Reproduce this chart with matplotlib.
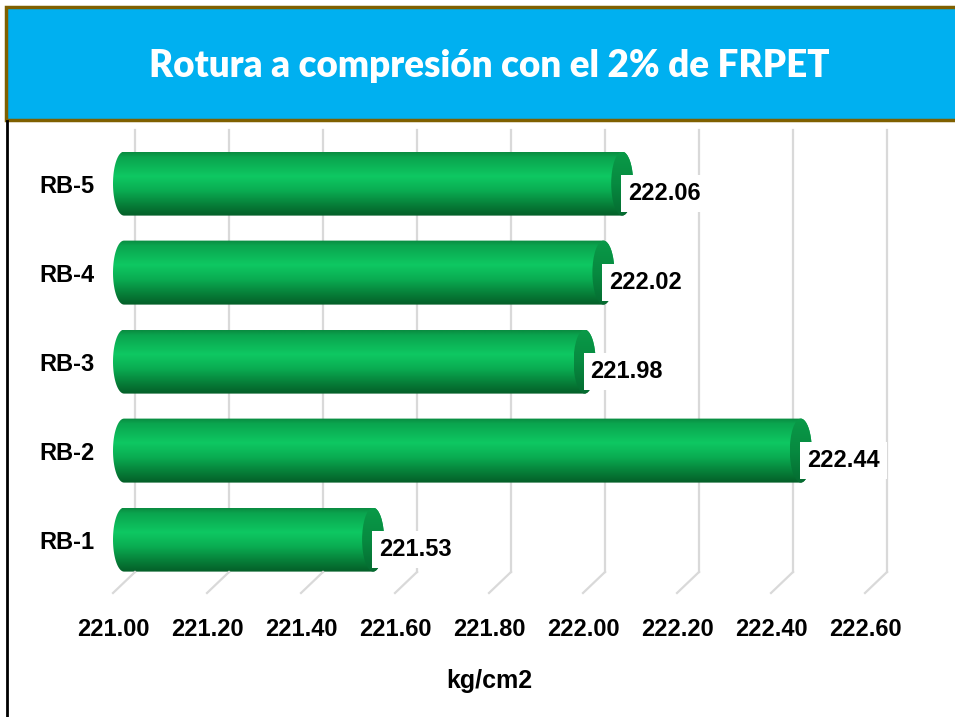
import numpy as np
import matplotlib
matplotlib.use("Agg")
import matplotlib.pyplot as plt
import matplotlib.transforms as mtransforms
from matplotlib.path import Path
from matplotlib.patches import PathPatch, Ellipse, Rectangle
from matplotlib.colors import LinearSegmentedColormap
from matplotlib.lines import Line2D

# data
categories = ["RB-1", "RB-2", "RB-3", "RB-4", "RB-5"]
values = [221.53, 222.44, 221.98, 222.02, 222.06]
x_ticks = [221.00, 221.20, 221.40, 221.60, 221.80, 222.00, 222.20, 222.40, 222.60]
title = "Rotura a compresión con el 2% de FRPET"
x_label = "kg/cm2"

plt.rcParams['font.family'] = ['Liberation Sans', 'DejaVu Sans']

W, H = 955, 717
fig = plt.figure(figsize=(W / 100, H / 100), dpi=100)

# axes placed in pixel terms (front plane of the 3d box)
xmin, xmax = 221.0, 222.6
ymin, ymax = -0.6, 4.6
px_left, px_right = 113, 865
px_bottom = 593
py_unit = 89  # pixels per category
ax = fig.add_axes([px_left / W, (H - px_bottom) / H,
                   (px_right - px_left) / W, (ymax - ymin) * py_unit / H])
ax.set_xlim(xmin, xmax)
ax.set_ylim(ymin, ymax)
ax.set_facecolor("none")
for s in ax.spines.values():
    s.set_visible(False)

px_x = (xmax - xmin) / (px_right - px_left)   # data units per pixel (x)
px_y = 1.0 / py_unit                          # data units per pixel (y)

# depth offset of the back wall
depth_dx, depth_dy = 22, 21
back = ax.transData + mtransforms.ScaledTranslation(depth_dx / 100, depth_dy / 100, fig.dpi_scale_trans)

# gridlines on back wall + floor
top_y = ymin + (px_bottom - 130 - depth_dy) * px_y
for t in x_ticks:
    ax.plot([t, t], [ymin, top_y], color="#d9d9d9", lw=1.6, transform=back, zorder=1, clip_on=False)
    # floor slant from back wall to front edge
    x0, y0 = ax.transData.transform((t, ymin))
    x1, y1 = back.transform((t, ymin))
    fig.add_artist(Line2D([x0 / W, x1 / W], [y0 / H, y1 / H], color="#d9d9d9", lw=1.6, zorder=1))

# cylinder colours (top -> bottom)
body_cmap = LinearSegmentedColormap.from_list("body", [
    (0.0, "#0a8a40"), (0.08, "#0aa44e"), (0.38, "#0ec862"),
    (0.6, "#0aad52"), (0.85, "#067a36"), (1.0, "#045e28")])
cap_cmap = LinearSegmentedColormap.from_list("cap", [
    (0.0, "#0a9a48"), (0.5, "#078a40"), (1.0, "#056a30")])
grad = np.linspace(0, 1, 256).reshape(-1, 1)

rx = 11 * px_x
ry = 32 * px_y

for i, v in enumerate(values):
    yc = i
    x0 = xmin
    # outline: left half ellipse, body, right half ellipse
    th1 = np.linspace(np.pi / 2, 3 * np.pi / 2, 40)
    th2 = np.linspace(-np.pi / 2, np.pi / 2, 40)
    left = np.column_stack([x0 + rx + rx * np.cos(th1), yc + ry * np.sin(th1)])
    right = np.column_stack([v + rx + rx * np.cos(th2), yc + ry * np.sin(th2)])
    verts = np.vstack([left, right, left[:1]])
    codes = [Path.MOVETO] + [Path.LINETO] * (len(verts) - 2) + [Path.CLOSEPOLY]
    patch = PathPatch(Path(verts, codes), facecolor="none", edgecolor="none")
    ax.add_patch(patch)
    im = ax.imshow(grad, cmap=body_cmap, aspect="auto", interpolation="bilinear",
                   origin="upper", extent=[x0, v + 2 * rx, yc - ry, yc + ry], zorder=3)
    im.set_clip_path(patch)

    cap = Ellipse((v + rx, yc), 2 * rx, 2 * ry, facecolor="none", edgecolor="none")
    ax.add_patch(cap)
    im2 = ax.imshow(grad, cmap=cap_cmap, aspect="auto", interpolation="bilinear",
                    origin="upper", extent=[v, v + 2 * rx, yc - ry, yc + ry], zorder=4)
    im2.set_clip_path(cap)

    ax.text(v + 17 * px_x, yc - 10 * px_y, f"{v:.2f}", ha="left", va="center",
            fontsize=17, fontweight="bold", zorder=6,
            bbox=dict(facecolor="white", edgecolor="none", boxstyle="square,pad=0.3"))

ax.set_xlim(xmin, xmax)
ax.set_ylim(ymin, ymax)

ax.set_yticks(range(len(categories)))
ax.set_yticklabels(categories, fontsize=17, fontweight="bold")
ax.set_xticks(x_ticks)
ax.set_xticklabels([f"{t:.2f}" for t in x_ticks], fontsize=17, fontweight="bold")
ax.tick_params(axis="both", length=0)
ax.tick_params(axis="y", pad=13)
ax.tick_params(axis="x", pad=18)
ax.set_xlabel(x_label, fontsize=18, fontweight="bold", labelpad=20)

# title banner
fig.add_artist(Rectangle((6 / W, (H - 120) / H), 1.0, 113 / H, transform=fig.transFigure,
                         facecolor="#00b0f0", edgecolor="#7f6000", lw=2.5, zorder=0))
fig.text(489 / W, (H - 66) / H, title, ha="center", va="center", color="white",
         fontsize=26.5, fontweight="heavy", family=["Lato", "DejaVu Sans"])
fig.add_artist(Line2D([7 / W, 7 / W], [0, (H - 121) / H], color="black", lw=2))

fig.savefig("out.png", dpi=100)
